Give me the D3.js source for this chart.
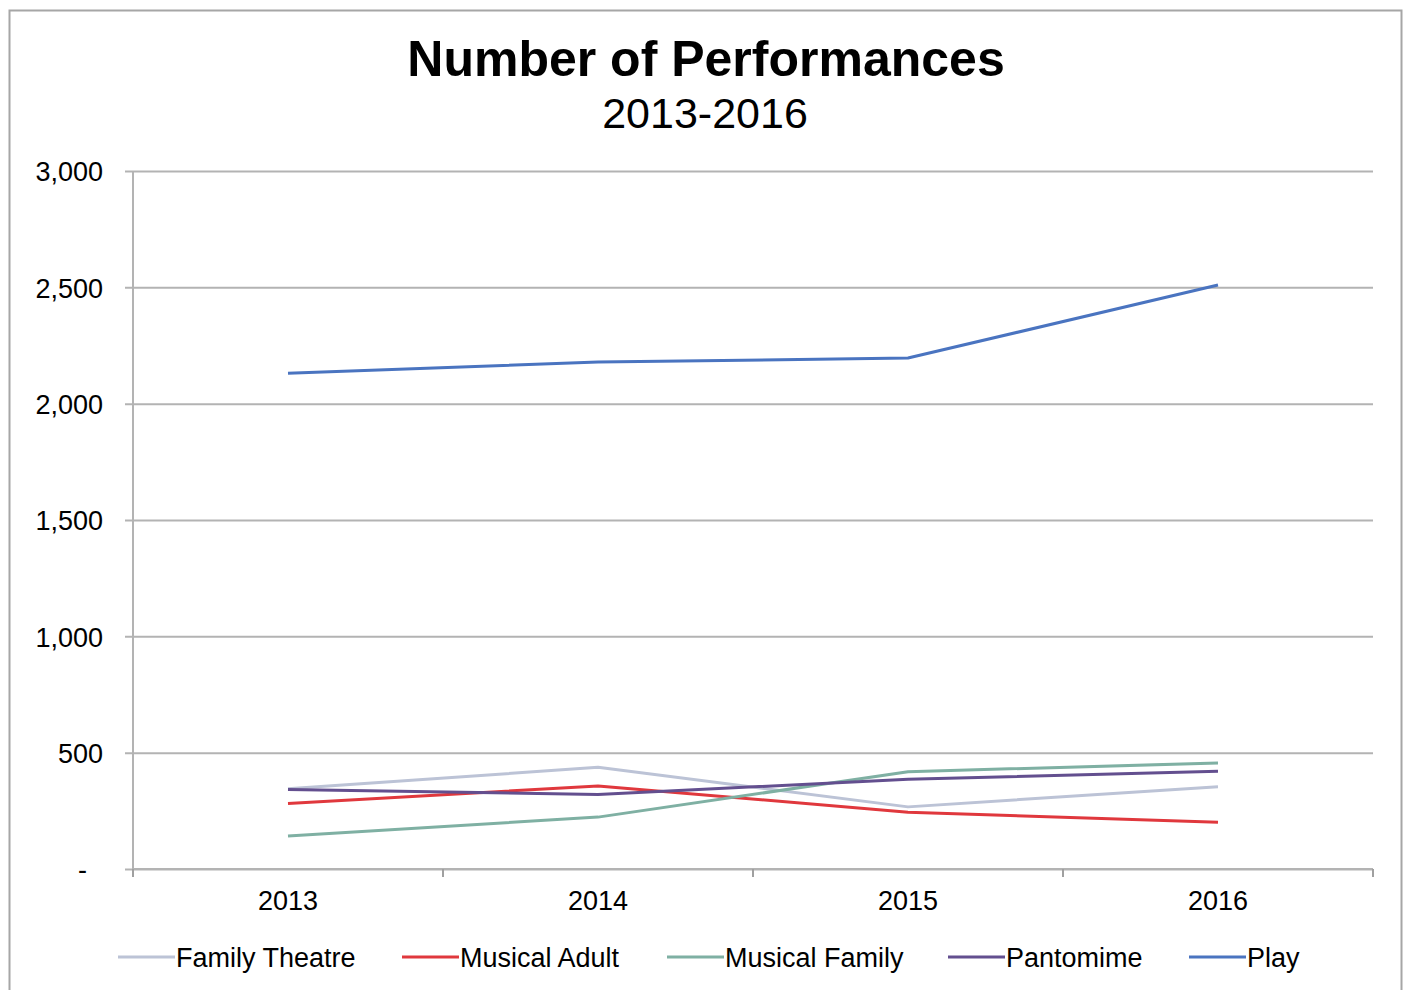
<!DOCTYPE html>
<html>
<head>
<meta charset="utf-8">
<script src="https://cdn.jsdelivr.net/npm/d3@7"></script>
<style>
  body { margin: 0; background: #fff; }
  svg text { font-family: "Liberation Sans", Arial, sans-serif; fill: #000; }
</style>
</head>
<body>
<div id="chart"></div>
<script>
// data
var years = ["2013", "2014", "2015", "2016"];
var seriesNames = ["Family Theatre", "Musical Adult", "Musical Family", "Pantomime", "Play"];
var familyTheatre = [345, 437, 267, 354];
var musicalAdult = [281, 357, 244, 201];
var musicalFamily = [142, 223, 418, 456];
var pantomime = [342, 320, 386, 420];
var play = [2131, 2179, 2196, 2510];
var yTicks = [0, 500, 1000, 1500, 2000, 2500, 3000];
var colors = ["#bcc3d6", "#e0383d", "#7fb0a3", "#634f8f", "#4a74c0"];

var seriesValues = [familyTheatre, musicalAdult, musicalFamily, pantomime, play];

var width = 1407, height = 990;
var plot = { left: 133, right: 1373, top: 171, bottom: 869 };

var svg = d3.select("#chart").append("svg")
    .attr("width", width)
    .attr("height", height);

// outer frame
svg.append("rect")
    .attr("x", 9.5).attr("y", 10.5)
    .attr("width", 1392).attr("height", 995)
    .attr("fill", "#fff")
    .attr("stroke", "#a6a6a6")
    .attr("stroke-width", 2);

// titles
svg.append("text")
    .attr("x", 706).attr("y", 76)
    .attr("text-anchor", "middle")
    .style("font-size", "50px").style("font-weight", "bold")
    .text("Number of Performances");
svg.append("text")
    .attr("x", 705).attr("y", 128)
    .attr("text-anchor", "middle")
    .style("font-size", "43px")
    .attr("fill", "#222")
    .text("2013-2016");

var x = d3.scaleBand().domain(years).range([plot.left, plot.right]).padding(0);
var y = d3.scaleLinear().domain([0, 3000]).range([plot.bottom, plot.top]);

// y axis + gridlines
var fmt = d3.format(",");
var yAxis = svg.append("g")
    .attr("transform", "translate(" + plot.left + ",0)")
    .call(d3.axisLeft(y).tickValues(yTicks)
        .tickSize(-(plot.right - plot.left))
        .tickPadding(30)
        .tickFormat(function(d) { return d === 0 ? "-" : fmt(d); }));
yAxis.select(".domain").remove();
yAxis.selectAll(".tick line")
    .attr("x1", -8)
    .attr("stroke", "#b3b3b3")
    .attr("stroke-width", 2);
yAxis.selectAll(".tick text")
    .style("font-size", "27px")
    .attr("dy", "0.36em")
    .attr("dx", function(d) { return d === 0 ? -16 : 0; });
svg.append("line")
    .attr("x1", plot.left).attr("x2", plot.left)
    .attr("y1", plot.top).attr("y2", plot.bottom + 6)
    .attr("stroke", "#b3b3b3").attr("stroke-width", 2);

// x axis with ticks at band edges
var xAxis = svg.append("g")
    .attr("transform", "translate(0," + plot.bottom + ")");
xAxis.append("line")
    .attr("x1", plot.left).attr("x2", plot.right)
    .attr("stroke", "#b3b3b3").attr("stroke-width", 2);
var edges = years.map(function(d) { return x(d); }).concat([plot.right]);
xAxis.selectAll(".edge").data(edges).enter().append("line")
    .attr("x1", function(d) { return d; }).attr("x2", function(d) { return d; })
    .attr("y1", 0).attr("y2", 8)
    .attr("stroke", "#a0a0a0").attr("stroke-width", 2);
xAxis.selectAll(".lbl").data(years).enter().append("text")
    .attr("x", function(d) { return x(d) + x.bandwidth() / 2; })
    .attr("y", 41)
    .attr("text-anchor", "middle")
    .style("font-size", "27px")
    .text(function(d) { return d; });

// lines
var line = d3.line()
    .x(function(d, i) { return x(years[i]) + x.bandwidth() / 2; })
    .y(function(d) { return y(d); });

svg.append("g").selectAll("path")
    .data(seriesValues)
    .enter().append("path")
    .attr("d", line)
    .attr("fill", "none")
    .attr("stroke", function(d, i) { return colors[i]; })
    .attr("stroke-width", 3)
    .attr("stroke-linejoin", "round");

// legend
var legendX = [118, 402, 667, 948, 1189];
var legend = svg.append("g").selectAll("g")
    .data(seriesNames)
    .enter().append("g")
    .attr("transform", function(d, i) { return "translate(" + legendX[i] + ",957)"; });
legend.append("line")
    .attr("x1", 0).attr("x2", 57)
    .attr("stroke", function(d, i) { return colors[i]; })
    .attr("stroke-width", 3);
legend.append("text")
    .attr("x", 58).attr("dy", "0.36em")
    .style("font-size", "27px")
    .text(function(d) { return d; });
</script>
</body>
</html>
